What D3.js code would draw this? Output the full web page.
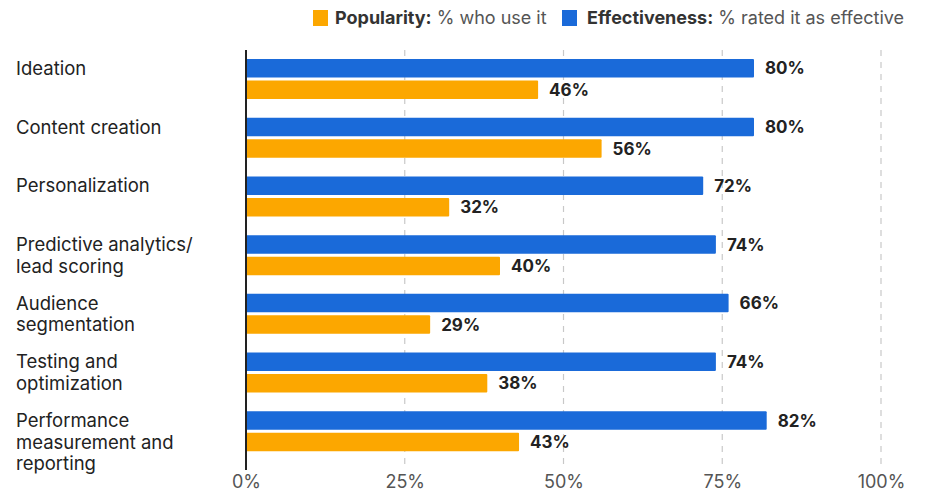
<!DOCTYPE html>
<html><head><meta charset="utf-8">
<script src="https://cdn.jsdelivr.net/npm/d3@7"></script>
<style>
body{margin:0;background:#fff;}
svg{font-family:Inter, "Noto Sans", sans-serif;}
</style></head>
<body><svg id="c" width="930" height="491"></svg>
<script>
const categories = [
  ["Ideation"],
  ["Content creation"],
  ["Personalization"],
  ["Predictive analytics/", "lead scoring"],
  ["Audience", "segmentation"],
  ["Testing and", "optimization"],
  ["Performance", "measurement and", "reporting"]
];
const effectiveness = [80, 80, 72, 74, 76, 74, 82];
const effectivenessLabels = ["80%", "80%", "72%", "74%", "66%", "74%", "82%"];
const popularity = [46, 56, 32, 40, 29, 38, 43];
const popularityLabels = ["46%", "56%", "32%", "40%", "29%", "38%", "43%"];
const ticks = [0, 25, 50, 75, 100];
const tickLabels = ["0%", "25%", "50%", "75%", "100%"];

const BLUE = "#1a6ad9", ORANGE = "#fca700";
const svg = d3.select("#c");
const x = d3.scaleLinear().domain([0, 100]).range([246, 881]);
const y = d3.scaleBand().domain(d3.range(categories.length)).range([49, 460]).paddingInner(0).paddingOuter(0);
const barH = 18.5, gap = 3;

// gridlines
svg.append("g").selectAll("line").data(ticks.slice(1)).join("line")
  .attr("x1", d => x(d)).attr("x2", d => x(d))
  .attr("y1", 50).attr("y2", 470)
  .attr("stroke", "#c8c8c8").attr("stroke-width", 1.2).attr("stroke-dasharray", "6,6");

// axis tick labels
const xAxis = d3.axisBottom(x).tickValues(ticks).tickFormat((d, i) => tickLabels[i]).tickSize(0).tickPadding(0);
const ax = svg.append("g").attr("transform", "translate(0,475)").call(xAxis);
ax.select(".domain").remove();
ax.selectAll("text").attr("font-size", 18).attr("fill", "#555").attr("font-family", "Inter, sans-serif").attr("dy", "0.71em");

const g = svg.append("g");
categories.forEach((c, i) => {
  const top = y(i) + 10;
  g.append("rect").attr("x", x(0)).attr("y", top).attr("width", x(effectiveness[i]) - x(0)).attr("height", barH).attr("fill", BLUE).attr("rx", 1);
  g.append("rect").attr("x", x(0)).attr("y", top + barH + gap).attr("width", x(popularity[i]) - x(0)).attr("height", barH).attr("fill", ORANGE).attr("rx", 1);
  g.append("text").attr("x", x(effectiveness[i]) + 11).attr("y", top + barH / 2).attr("dy", "0.36em")
    .attr("font-size", 17).attr("font-weight", 700).attr("fill", "#222").text(effectivenessLabels[i]);
  g.append("text").attr("x", x(popularity[i]) + 11).attr("y", top + barH * 1.5 + gap).attr("dy", "0.36em")
    .attr("font-size", 17).attr("font-weight", 700).attr("fill", "#222").text(popularityLabels[i]);
  const t = g.append("text").attr("x", 16).attr("font-size", 18.5).attr("fill", "#222");
  c.forEach((line, j) => {
    t.append("tspan").attr("x", 16).attr("y", top + barH / 2 + j * 21.5).attr("dy", "0.36em").text(line);
  });
});

// axis line
svg.append("line").attr("x1", x(0)).attr("x2", x(0)).attr("y1", 50).attr("y2", 470).attr("stroke", "#222").attr("stroke-width", 2);

// legend
const lg = svg.append("g");
lg.append("rect").attr("x", 313).attr("y", 10).attr("width", 15).attr("height", 16).attr("fill", ORANGE);
const t1 = lg.append("text").attr("x", 335).attr("y", 24).attr("font-size", 18).attr("fill", "#333");
t1.append("tspan").attr("font-weight", 700).text("Popularity:");
t1.append("tspan").attr("fill", "#555").text(" % who use it");
lg.append("rect").attr("x", 562).attr("y", 10).attr("width", 15).attr("height", 16).attr("fill", BLUE);
const t2 = lg.append("text").attr("x", 587).attr("y", 24).attr("font-size", 18).attr("fill", "#333");
t2.append("tspan").attr("font-weight", 700).text("Effectiveness:");
t2.append("tspan").attr("fill", "#555").text(" % rated it as effective");
</script></body></html>
